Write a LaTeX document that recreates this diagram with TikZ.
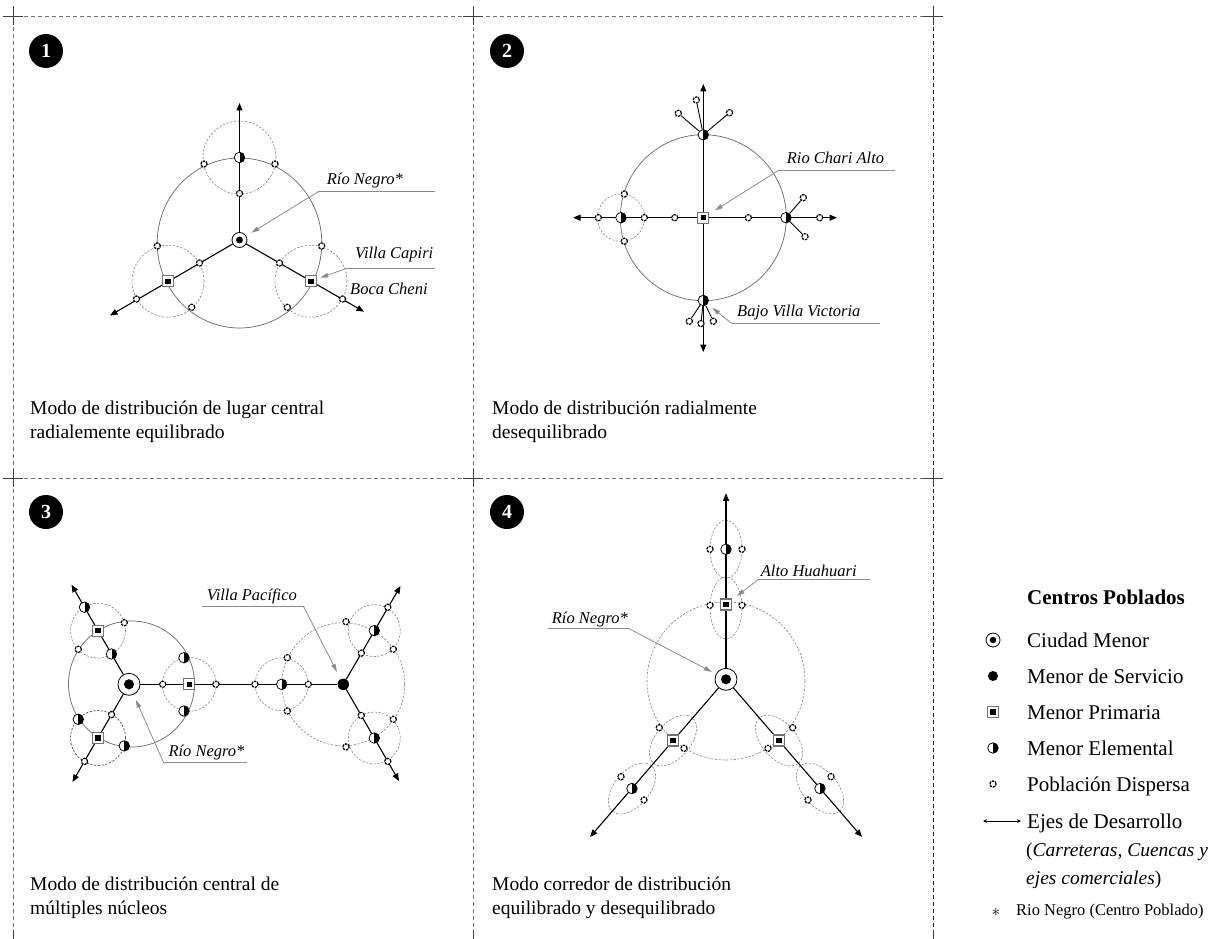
\documentclass[tikz,border=0pt]{standalone}
\usepackage{fontspec}
\setmainfont{Liberation Serif}
\usetikzlibrary{arrows.meta,backgrounds}
\begin{document}
\begin{tikzpicture}[x=1pt,y=-1pt,
 disp/.style={circle,draw=black,line width=1.2pt,fill=white,minimum size=6.2pt,inner sep=0pt,dash pattern=on 2.6pt off 0.9pt},
 elem/.style={circle,draw=black,line width=0.75pt,fill=white,minimum size=10.5pt,inner sep=0pt,
   path picture={\fill[black] (path picture bounding box.north) rectangle (path picture bounding box.south east);}},
 prim/.style={rectangle,draw=black!55,line width=1.2pt,fill=white,minimum size=11pt,inner sep=0pt,
   path picture={\fill[black] ([shift={(-2.7pt,-2.7pt)}]path picture bounding box.center) rectangle ([shift={(2.7pt,2.7pt)}]path picture bounding box.center);}},
 ciud/.style={circle,draw=black,line width=0.8pt,fill=white,minimum size=#1,inner sep=0pt,
   path picture={\fill[black] (path picture bounding box.center) circle[radius=0.23*#1];}},
 ciud/.default=15pt,
 serv/.style={circle,fill=black,minimum size=#1,inner sep=0pt},
 serv/.default=11pt,
 axisa/.style={line width=1.1pt,-{Triangle[length=7.5pt,width=6pt]}},
 axisl/.style={line width=1.1pt},
 spoke/.style={line width=0.9pt},
 bigc/.style={draw=black!60,line width=0.7pt},
 dc/.style={draw=black!50,line width=0.6pt,dash pattern=on 2.2pt off 1.6pt},
 dcd/.style={draw=black!80,line width=0.6pt,dash pattern=on 2.2pt off 1.6pt},
 lead/.style={draw=black!45,line width=0.8pt,-{Triangle[length=8pt,width=4.5pt]}},
 uline/.style={draw=black!45,line width=0.8pt},
 lbl/.style={font=\fontsize{16.5}{18}\selectfont\itshape,inner sep=0pt,anchor=base west},
 captxt/.style={font=\fontsize{19.5}{24}\selectfont,inner sep=0pt,anchor=base west},
 lgt/.style={font=\fontsize{21}{24}\selectfont,inner sep=0pt,anchor=base west},
 badge/.style={circle,fill=black,minimum size=34pt,inner sep=0pt,text=white,font=\fontsize{20}{20}\selectfont\bfseries},
 fr/.style={draw=black!55,line width=0.7pt,dash pattern=on 4pt off 3pt},
 frd/.style={draw=black!85,line width=0.8pt,dash pattern=on 4pt off 3pt},
 crossmk/.style={draw=black!75,line width=0.9pt}
]
\useasboundingbox (0,0) rectangle (1218,939);

% ---------------- badges ----------------
\node[badge] (n1) at (46,51) {1};
\node[badge] (n2) at (507,51) {2};
\node[badge] (n3) at (46,512) {3};
\node[badge] (n4) at (507,512) {4};

% ---------------- panel 1 ----------------
\node[ciud=15pt] (c1) at (239.5,240) {};
\node[elem] (e1) at (239.5,157.5) {};
\node[prim] (p1l) at (168,281.2) {};
\node[prim] (p1r) at (311,281.2) {};
\node[disp] (d1a) at (204,164) {};
\node[disp] (d1b) at (275,164) {};
\node[disp] (d1c) at (239.5,193.5) {};
\node[disp] (d1d) at (157.3,246) {};
\node[disp] (d1e) at (199.5,263) {};
\node[disp] (d1f) at (136.5,299) {};
\node[disp] (d1g) at (191.7,307.3) {};
\node[disp] (d1h) at (321.7,246) {};
\node[disp] (d1i) at (279.5,263) {};
\node[disp] (d1j) at (342.5,299) {};
\node[disp] (d1k) at (287.3,307.3) {};
\coordinate (t1a) at (239.5,103);
\coordinate (t1b) at (110,315.5);
\coordinate (t1c) at (364,311.7);
\coordinate (o1) at (239.5,243);

\node[lbl] (l1a) at (326.7,184.3) {Río Negro*};
\coordinate (u1a) at (318.3,191.7);
\coordinate (u1b) at (435,191.7);
\node[lbl] (l1b) at (355,258.3) {Villa Capiri};
\coordinate (u1c) at (346.7,268.3);
\coordinate (u1d) at (435,268.3);
\node[lbl] (l1c) at (350,294) {Boca Cheni};

\node[captxt] (k1a) at (30,414) {Modo de distribución de lugar central};
\node[captxt] (k1b) at (30,438) {radialemente equilibrado};

% ---------------- panel 2 ----------------
\node[prim] (p2) at (703.3,217.7) {};
\node[elem] (e2t) at (703.3,134.8) {};
\node[elem] (e2l) at (621,217.7) {};
\node[elem] (e2r) at (786,217.7) {};
\node[elem] (e2b) at (703.3,300.5) {};
\node[disp] (d2a) at (696.3,100) {};
\node[disp] (d2b) at (678.3,113.3) {};
\node[disp] (d2c) at (729.5,112.7) {};
\node[disp] (d2d) at (598.3,217.7) {};
\node[disp] (d2e) at (644.3,217.7) {};
\node[disp] (d2f) at (674.7,217.7) {};
\node[disp] (d2g) at (624.3,194) {};
\node[disp] (d2h) at (624.3,241.3) {};
\node[disp] (d2i) at (748.3,217.7) {};
\node[disp] (d2j) at (819.7,217.7) {};
\node[disp] (d2k) at (803.3,197.7) {};
\node[disp] (d2l) at (805,236.7) {};
\node[disp] (d2m) at (689.3,321.3) {};
\node[disp] (d2n) at (701,323.5) {};
\node[disp] (d2o) at (713.3,321.3) {};
\coordinate (t2a) at (703.3,84);
\coordinate (t2b) at (703.3,352);
\coordinate (t2c) at (573,217.7);
\coordinate (t2d) at (837,217.7);

\node[lbl] (l2a) at (786.7,164) {Rio Chari Alto};
\coordinate (u2a) at (778.3,170.5);
\coordinate (u2b) at (895,170.5);
\node[lbl] (l2b) at (737,316.7) {Bajo Villa Victoria};
\coordinate (u2c) at (731.7,323.5);
\coordinate (u2d) at (880,323.5);

\node[captxt] (k2a) at (492,414) {Modo de distribución radialmente};
\node[captxt] (k2b) at (492,438) {desequilibrado};

% ---------------- panel 3 ----------------
\node[ciud=22pt] (c3) at (129,684.3) {};
\node[elem] (e3a) at (84.5,607.2) {};
\node[prim] (p3a) at (98,630.6) {};
\node[elem] (e3b) at (111.5,654) {};
\node[disp] (d3a) at (124.3,622.7) {};
\node[disp] (d3b) at (78.3,649.3) {};
\node[disp] (d3c) at (111.5,714.6) {};
\node[prim] (p3b) at (98,738) {};
\node[disp] (d3d) at (84.5,761.4) {};
\node[elem] (e3c) at (78.3,719.3) {};
\node[elem] (e3d) at (124.3,745.9) {};
\node[prim] (p3c) at (189.3,684.3) {};
\node[elem] (e3e) at (184,657.7) {};
\node[elem] (e3f) at (184,711) {};
\node[disp] (d3e) at (162.7,684.3) {};
\node[disp] (d3f) at (216,684.3) {};
\node[disp] (d3g) at (255,684.3) {};
\node[elem] (e3g) at (281.7,684.3) {};
\node[disp] (d3h) at (308.3,684.3) {};
\node[disp] (d3i) at (287.3,657.7) {};
\node[disp] (d3j) at (287.3,711) {};
\node[serv=11.5pt] (s3) at (343.3,684.3) {};
\node[disp] (d3k) at (361.3,653.1) {};
\node[elem] (e3h) at (374.3,630.6) {};
\node[disp] (d3l) at (387.8,607.2) {};
\node[disp] (d3m) at (346,621.7) {};
\node[disp] (d3n) at (393.3,649.3) {};
\node[disp] (d3o) at (361.3,715.5) {};
\node[elem] (e3i) at (374.3,738) {};
\node[disp] (d3p) at (387.8,761.4) {};
\node[disp] (d3q) at (346,746.9) {};
\node[disp] (d3r) at (393.3,719.3) {};
\coordinate (t3a) at (71.5,584.7);
\coordinate (t3b) at (72.5,782);
\coordinate (t3c) at (400.5,586);
\coordinate (t3d) at (399,781);
\coordinate (o3) at (131.5,684);

\node[lbl] (l3a) at (206.7,600) {Villa Pacífico};
\coordinate (u3a) at (201.7,606);
\coordinate (u3b) at (303.3,606);
\node[lbl] (l3b) at (168.3,756) {Río Negro*};
\coordinate (u3c) at (163.3,762);
\coordinate (u3d) at (246.7,762);

\node[captxt] (k3a) at (30,890) {Modo de distribución central de};
\node[captxt] (k3b) at (30,914) {múltiples núcleos};

% ---------------- panel 4 ----------------
\node[ciud=22pt] (c4) at (726,679.3) {};
\node[elem] (e4t) at (726,549.3) {};
\node[prim] (p4t) at (726,604.5) {};
\node[disp] (d4a) at (710,549.3) {};
\node[disp] (d4b) at (742,549.3) {};
\node[disp] (d4c) at (710,605.3) {};
\node[disp] (d4d) at (742,605.3) {};
\node[prim] (p4l) at (673,740.5) {};
\node[elem] (e4l) at (632,788.5) {};
\node[prim] (p4r) at (779,740.5) {};
\node[elem] (e4r) at (820,788.5) {};
\node[disp] (d4e) at (659.3,727.7) {};
\node[disp] (d4f) at (684,748.3) {};
\node[disp] (d4g) at (621,776.7) {};
\node[disp] (d4h) at (644,800) {};
\node[disp] (d4i) at (792.7,727.7) {};
\node[disp] (d4j) at (768,748.3) {};
\node[disp] (d4k) at (831,776.7) {};
\node[disp] (d4l) at (808,800) {};
\coordinate (t4a) at (726,493.3);
\coordinate (t4b) at (590,837);
\coordinate (t4c) at (862,837);
\coordinate (o4) at (726,681);
\coordinate (o4t) at (726,608);

\node[lbl] (l4a) at (760.7,576) {Alto Huahuari};
\coordinate (u4a) at (758.3,579.5);
\coordinate (u4b) at (870,579.5);
\node[lbl] (l4b) at (551.7,623.5) {Río Negro*};
\coordinate (u4c) at (548.3,628.3);
\coordinate (u4d) at (628.3,628.3);

\node[captxt] (k4a) at (492,890) {Modo corredor de distribución};
\node[captxt] (k4b) at (492,914) {equilibrado y desequilibrado};

% ---------------- legend ----------------
\node[lgt,font=\fontsize{21}{24}\selectfont\bfseries] (lgh) at (1027,604) {Centros Poblados};
\node[ciud=14pt] (lg1) at (993,640) {};
\node[serv=10pt] (lg2) at (993,676) {};
\node[prim] (lg3) at (993,712) {};
\node[elem] (lg4) at (993,748) {};
\node[disp] (lg5) at (993,784) {};
\node[lgt] (lt1) at (1027,647) {Ciudad Menor};
\node[lgt] (lt2) at (1027,683) {Menor de Servicio};
\node[lgt] (lt3) at (1027,719) {Menor Primaria};
\node[lgt] (lt4) at (1027,755) {Menor Elemental};
\node[lgt] (lt5) at (1027,791) {Población Dispersa};
\coordinate (lga) at (983,821);
\coordinate (lgb) at (1021,821);
\node[lgt] (lt6) at (1027,828) {Ejes de Desarrollo};
\node[lgt,font=\fontsize{19.5}{24}\selectfont] (lt7) at (1026,856) {(\textit{Carreteras, Cuencas y}};
\node[lgt,font=\fontsize{19.5}{24}\selectfont] (lt8) at (1026,884) {\textit{ejes comerciales})};
\node[inner sep=0pt,font=\fontsize{16}{18}\selectfont] (ast) at (996,912) {$\ast$};
\node[lbl,font=\fontsize{16.5}{18}\selectfont] (lt9) at (1016,915) {Rio Negro (Centro Poblado)};

% ---------------- leaders ----------------
\draw[uline] (u1a) -- (u1b);
\draw[lead,shorten >=6pt] (u1a) -- (c1);
\draw[uline] (u1c) -- (u1d);
\draw[lead,shorten >=3.5pt] (u1c) -- (p1r);
\draw[uline] (u2a) -- (u2b);
\draw[lead,shorten >=6.5pt] (u2a) -- (p2);
\draw[uline] (u2c) -- (u2d);
\draw[lead,shorten >=6pt] (u2c) -- (e2b);
\draw[uline] (u3a) -- (u3b);
\draw[lead,shorten >=8pt] (u3b) -- (s3);
\draw[uline] (u3c) -- (u3d);
\draw[lead,shorten >=5.5pt] (u3c) -- (c3);
\draw[uline] (u4a) -- (u4b);
\draw[lead,shorten >=6pt] (u4a) -- (p4t);
\draw[uline] (u4c) -- (u4d);
\draw[lead,shorten >=4.5pt] (u4d) -- (c4);
\draw[line width=0.8pt,{Stealth[length=4pt,width=3.5pt]}-{Stealth[length=4pt,width=3.5pt]}] (lga) -- (lgb);

% ---------------- background ----------------
\begin{scope}[on background layer]
 % frame
 \draw[fr] (3,16) -- (943,16);
 \draw[fr] (3,478) -- (943,478);
 \draw[fr] (13,6) -- (13,939);
 \draw[fr] (473,6) -- (473,939);
 \draw[frd] (933,6) -- (933,939);
 \foreach \cx in {13,473,933}{
   \foreach \cy in {16,478,939}{
     \draw[crossmk] (\cx-10,\cy) -- (\cx+10,\cy);
     \draw[crossmk] (\cx,\cy-9) -- (\cx,\cy+9);
   }
 }
 % panel 1
 \draw[bigc] (o1) ellipse[x radius=82.3pt,y radius=85pt];
 \draw[dc] (e1.center) circle[radius=36.5pt];
 \draw[dc] (p1l.center) circle[radius=36pt];
 \draw[dc] (p1r.center) circle[radius=36pt];
 \draw[axisa] (c1) -- (t1a);
 \draw[axisa] (c1) -- (t1b);
 \draw[axisa] (c1) -- (t1c);
 % panel 2
 \draw[bigc] (p2.center) circle[radius=83pt];
 \draw[dc] (e2l.center) circle[radius=23.7pt];
 \draw[axisa] (p2) -- (t2a);
 \draw[axisa] (p2) -- (t2b);
 \draw[axisa] (p2) -- (t2c);
 \draw[axisa] (p2) -- (t2d);
 \draw[spoke] (e2t) -- (d2a);
 \draw[spoke] (e2t) -- (d2b);
 \draw[spoke] (e2t) -- (d2c);
 \draw[spoke] (e2r) -- (d2k);
 \draw[spoke] (e2r) -- (d2l);
 \draw[spoke] (e2b) -- (d2m);
 \draw[spoke] (e2b) -- (d2n);
 \draw[spoke] (e2b) -- (d2o);
 % panel 3
 \draw[bigc] (o3) circle[radius=63pt];
 \draw[dc] (p3a.center) circle[radius=27.5pt];
 \draw[dcd] (p3b.center) circle[radius=27.5pt];
 \draw[dc] (p3c.center) circle[radius=27pt];
 \draw[dc] (e3g.center) circle[radius=26.5pt];
 \draw[dc] (e3h.center) circle[radius=26pt];
 \draw[dc] (e3i.center) circle[radius=26pt];
 \draw[dc] (s3.center) circle[radius=61.5pt];
 \draw[axisa] (c3) -- (t3a);
 \draw[axisa] (c3) -- (t3b);
 \draw[axisl] (c3) -- (s3);
 \draw[axisa] (s3) -- (t3c);
 \draw[axisa] (s3) -- (t3d);
 % panel 4
 \draw[dc] (o4) circle[radius=79pt];
 \draw[dc] (e4t.center) ellipse[x radius=16pt,y radius=29pt];
 \draw[dc] (o4t) ellipse[x radius=16pt,y radius=31pt];
 \draw[dc,rotate around={49.3:(p4l.center)}] (p4l.center) ellipse[x radius=30pt,y radius=17.5pt];
 \draw[dc,rotate around={49.3:(e4l.center)}] (e4l.center) ellipse[x radius=30pt,y radius=17.5pt];
 \draw[dc,rotate around={-49.3:(p4r.center)}] (p4r.center) ellipse[x radius=30pt,y radius=17.5pt];
 \draw[dc,rotate around={-49.3:(e4r.center)}] (e4r.center) ellipse[x radius=30pt,y radius=17.5pt];
 \draw[axisa] (c4) -- (t4a);
 \draw[axisa] (c4) -- (t4b);
 \draw[axisa] (c4) -- (t4c);
\end{scope}
\end{tikzpicture}
\end{document}
